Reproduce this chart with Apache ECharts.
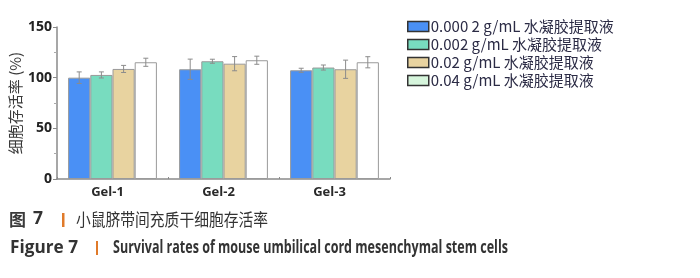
<!DOCTYPE html>
<html><head><meta charset="utf-8">
<script src="https://cdn.jsdelivr.net/npm/echarts@6/dist/echarts.min.js"></script>
<style>html,body{margin:0;padding:0;background:#fff}#c{width:700px;height:278px}</style>
</head><body><div id="c"></div>
<script>
var categories = ['Gel-1', 'Gel-2', 'Gel-3'];
var seriesNames = ['0.000 2 g/mL 水凝胶提取液', '0.002 g/mL 水凝胶提取液', '0.02 g/mL 水凝胶提取液', '0.04 g/mL 水凝胶提取液'];
var s1 = [100, 108.3, 107.3];
var s2 = [102.7, 116.2, 110];
var s3 = [108.6, 113.8, 108.3];
var s4 = [115.2, 117.2, 115.2];
var e1 = [5.7, 10, 2];
var e2 = [3, 2, 2.5];
var e3 = [3.5, 7, 9];
var e4 = [4, 4, 5.5];
var yTicks = [0, 50, 100, 150];

var barColors = ['#4a90f5', '#78dcbf', '#e8d3a0', '#ffffff'];
var legendColors = ['#4a90f5', '#78dcbf', '#e8d3a0', '#d6f5dc'];
var values = [s1, s2, s3, s4];
var errs = [e1, e2, e3, e4];

var mctx = document.createElement('canvas').getContext('2d');
function fitText(str, size, weight, family, x, y, width, fill) {
  mctx.font = weight + ' ' + size + 'px "' + family + '"';
  var w = mctx.measureText(str).width;
  return {type: 'text', x: x, y: y, scaleX: width / w, originX: 0,
    style: {text: str, fontSize: size, fontWeight: weight, fontFamily: family, fill: fill, verticalAlign: 'middle'}};
}

var chart = echarts.init(document.getElementById('c'), null, {renderer: 'canvas'});
var series = [];
values.forEach(function (v, i) {
  series.push({
    name: seriesNames[i], type: 'bar', data: v, barGap: '0%', barCategoryGap: '20%',
    itemStyle: {color: barColors[i], borderColor: '#9a9a9a', borderWidth: 1},
    z: 2
  });
});
values.forEach(function (v, i) {
  series.push({
    type: 'custom', z: 5, silent: true,
    data: v.map(function (val, k) { return [k, val - errs[i][k], val + errs[i][k]]; }),
    renderItem: function (params, api) {
      var band = api.size([1, 0])[0];
      var bw = band * 0.8 / 4;
      var off = (i - 1.5) * bw;
      var hi = api.coord([api.value(0), api.value(2)]);
      var lo = api.coord([api.value(0), api.value(1)]);
      var x = hi[0] + off;
      var cap = 2.5;
      var st = {stroke: '#8c8c8c', lineWidth: 1};
      return {type: 'group', children: [
        {type: 'line', shape: {x1: x, y1: hi[1], x2: x, y2: lo[1]}, style: st},
        {type: 'line', shape: {x1: x - cap, y1: hi[1], x2: x + cap, y2: hi[1]}, style: st},
        {type: 'line', shape: {x1: x - cap, y1: lo[1], x2: x + cap, y2: lo[1]}, style: st}
      ]};
    }
  });
});

var graphics = [
  {type: 'text', x: 9, y: 220, style: {text: '图', fontSize: 17, fontWeight: 'bold', fontFamily: 'Noto Sans CJK SC', fill: '#3a3a3a', verticalAlign: 'middle'}},
  fitText('7', 17, 'bold', 'Open Sans', 33, 219, 10, '#333'),
  {type: 'rect', shape: {x: 62, y: 213, width: 2.5, height: 14}, style: {fill: '#e07a2a'}},
  fitText('小鼠脐带间充质干细胞存活率', 17, 'normal', 'Noto Sans CJK SC', 76, 220, 192, '#333'),
  fitText('Figure 7', 17, 'bold', 'Open Sans', 10, 248, 68, '#333'),
  {type: 'rect', shape: {x: 96, y: 241, width: 2, height: 14}, style: {fill: '#e07a2a'}},
  fitText('Survival rates of mouse umbilical cord mesenchymal stem cells', 17, 'bold', 'Open Sans', 113, 248, 395, '#333')
];

chart.setOption({
  animation: false,
  textStyle: {fontFamily: 'Noto Sans CJK SC'},
  grid: {left: 57, top: 27, right: 310, bottom: 99, containLabel: false},
  legend: {
    orient: 'vertical', left: 402, top: 14, itemWidth: 21, itemHeight: 10, itemGap: 3,
    icon: 'rect',
    data: seriesNames.map(function (n, i) {
      return {name: n, itemStyle: {color: legendColors[i], borderColor: '#333', borderWidth: 1.5}};
    }),
    textStyle: {fontSize: 15, lineHeight: 15, color: '#2b2b45', fontFamily: 'Noto Sans CJK SC', padding: [0, 0, 0, -3]}
  },
  xAxis: {
    type: 'category', data: categories,
    axisLine: {lineStyle: {color: '#8a8a8a', width: 1.5}},
    axisTick: {show: true, inside: true, length: 2, lineStyle: {color: '#8a8a8a'}},
    axisLabel: {fontSize: 13, fontWeight: 'bold', color: '#2a2a2a', margin: 7, padding: [0, 10, 0, 0], fontFamily: 'Open Sans'}
  },
  yAxis: {
    type: 'value', min: 0, max: 150, interval: 50,
    name: '细胞存活率 (%)', nameLocation: 'middle', nameGap: 34, nameRotate: 90,
    nameTextStyle: {fontSize: 15, color: '#3a3a3a', fontFamily: 'Noto Sans CJK SC'},
    axisLine: {show: true, lineStyle: {color: '#8a8a8a', width: 1.5}},
    axisTick: {show: true, length: 4, lineStyle: {color: '#8a8a8a'}},
    minorTick: {show: true, splitNumber: 2, length: 3, lineStyle: {color: '#aaa'}},
    splitLine: {show: false},
    axisLabel: {fontSize: 14, fontWeight: 'bold', color: '#222', margin: 5, fontFamily: 'Open Sans',
      formatter: function (v) { return yTicks.indexOf(v) >= 0 ? String(v) : ''; }}
  },
  series: series,
  graphic: graphics
});
</script></body></html>
